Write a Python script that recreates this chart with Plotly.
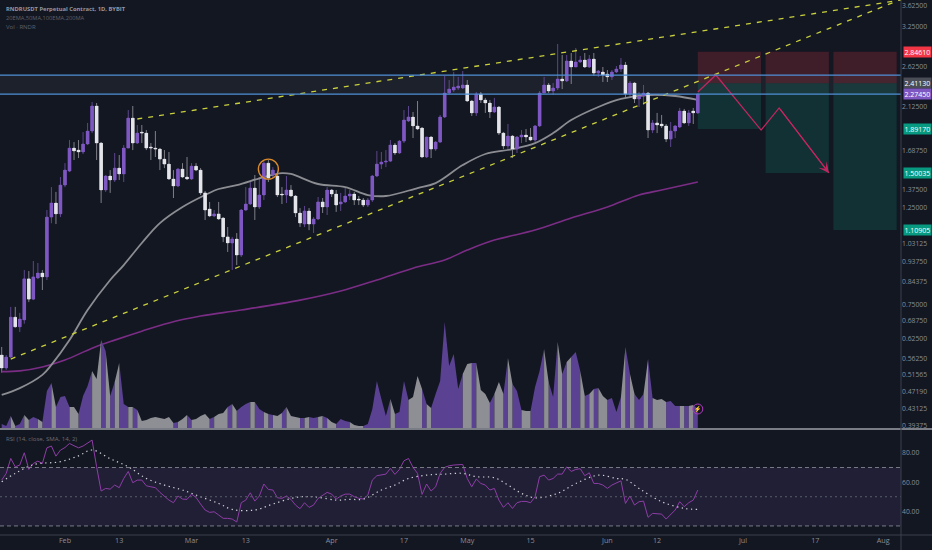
import math
import pandas as pd
import plotly.graph_objects as go

START = "2023-01-18"
opens = [.573,.535,.567,.700,.665,.690,.857,.770,.861,.884,
 .866,1.188,1.280,1.208,1.407,1.515,1.711,1.693,1.676,1.748,
 1.872,2.137,1.757,1.371,1.476,1.445,1.539,1.492,1.711,2.005,
 1.757,1.862,1.852,1.721,1.711,1.702,1.614,1.572,1.453,1.400,
 1.531,1.468,1.453,1.555,1.523,1.350,1.240,1.195,1.208,1.182,
 1.070,1.036,1.058,.972,1.233,1.273,1.385,1.253,1.335,1.580,
 1.484,1.476,1.342,1.335,1.371,1.328,1.214,1.145,1.227,1.145,
 1.176,1.287,1.253,1.371,1.342,1.273,1.287,1.328,1.342,1.307,
 1.300,1.266,1.300,1.476,1.572,1.589,1.597,1.739,1.667,1.775,
 1.974,2.016,1.923,1.902,1.632,1.814,1.702,1.766,2.016,2.289,
 2.325,2.350,2.350,2.388,2.194,2.060,2.277,2.206,2.171,2.070,
 2.126,1.852,1.730,1.823,1.702,1.814,1.833,1.814,1.785,1.923,
 2.289,2.388,2.313,2.350,2.465,2.439,2.711,2.626,2.697,2.725,
 2.626,2.739,2.543,2.558,2.530,2.492,2.558,2.598,2.654,2.277,
 2.413,2.218,2.253,2.289,1.882,1.954,1.943,1.923,1.794,1.872,
 1.912,2.081,1.954,2.081,2.060]
highs = [.598,.573,.739,.739,.716,.898,.893,.942,.932,.898,
 1.233,1.392,1.357,1.468,1.580,1.785,1.766,1.785,1.862,1.954,
 2.183,2.171,1.766,1.484,1.523,1.667,1.649,1.739,2.092,2.137,
 1.933,1.933,1.882,1.757,1.872,1.711,1.693,1.676,1.523,1.539,
 1.580,1.632,1.580,1.580,1.539,1.364,1.287,1.233,1.287,1.188,
 1.127,1.070,1.092,1.240,1.392,1.445,1.484,1.468,1.597,1.606,
 1.547,1.507,1.392,1.476,1.407,1.335,1.246,1.260,1.246,1.188,
 1.321,1.314,1.392,1.378,1.371,1.350,1.385,1.371,1.357,1.328,
 1.314,1.314,1.484,1.685,1.676,1.693,1.785,1.757,1.785,2.092,
 2.137,2.070,2.194,1.912,1.814,1.823,1.775,2.038,2.505,2.452,
 2.558,2.492,2.571,2.452,2.206,2.301,2.301,2.230,2.206,2.230,
 2.137,1.862,1.943,1.833,1.823,1.882,1.892,1.902,1.933,2.313,
 2.492,2.413,2.413,2.966,2.798,2.798,2.828,2.904,2.783,2.828,
 2.798,2.828,2.585,2.626,2.585,2.585,2.640,2.753,2.697,2.439,
 2.426,2.301,2.388,2.301,1.984,2.060,2.038,1.943,1.964,1.933,
 2.115,2.104,2.092,2.115,2.277]
lows = [.522,.530,.564,.662,.647,.676,.758,.766,.856,.808,
 .852,1.150,1.145,1.188,1.392,1.507,1.606,1.623,1.658,1.739,
 1.852,1.606,1.280,1.357,1.350,1.430,1.445,1.430,1.711,1.693,
 1.748,1.757,1.693,1.606,1.632,1.523,1.539,1.445,1.314,1.392,
 1.460,1.445,1.445,1.515,1.335,1.170,1.188,1.188,1.170,1.041,
 .988,.898,.922,.962,1.227,1.266,1.170,1.240,1.300,1.430,
 1.460,1.321,1.273,1.280,1.321,1.188,1.127,1.127,1.109,1.092,
 1.170,1.214,1.201,1.321,1.221,1.227,1.280,1.300,1.266,1.266,
 1.253,1.253,1.287,1.468,1.531,1.547,1.589,1.649,1.658,1.757,
 1.964,1.804,1.882,1.623,1.623,1.623,1.685,1.757,2.005,2.277,
 2.301,2.325,2.337,2.183,2.027,2.027,2.171,2.060,2.005,2.060,
 1.833,1.702,1.693,1.623,1.667,1.757,1.766,1.775,1.766,1.912,
 2.289,2.289,2.265,2.325,2.337,2.426,2.401,2.626,2.683,2.612,
 2.612,2.505,2.492,2.426,2.426,2.452,2.543,2.558,2.230,2.242,
 2.171,2.126,2.148,1.804,1.852,1.852,1.902,1.766,1.721,1.804,
 1.902,1.943,1.923,1.943,2.049]
closes = [.535,.567,.700,.665,.693,.857,.770,.866,.884,.866,
 1.188,1.280,1.208,1.407,1.523,1.711,1.685,1.676,1.748,1.872,
 2.137,1.757,1.371,1.476,1.445,1.539,1.492,1.711,2.005,1.757,
 1.852,1.852,1.711,1.711,1.702,1.614,1.572,1.453,1.400,1.531,
 1.468,1.453,1.555,1.523,1.350,1.233,1.195,1.208,1.176,1.070,
 1.036,1.058,.972,1.233,1.273,1.385,1.253,1.335,1.580,1.460,
 1.523,1.335,1.335,1.371,1.328,1.214,1.151,1.227,1.145,1.176,
 1.287,1.253,1.371,1.342,1.266,1.287,1.328,1.342,1.300,1.300,
 1.266,1.300,1.476,1.572,1.589,1.597,1.739,1.667,1.775,1.984,
 2.016,1.923,1.892,1.632,1.814,1.702,1.766,2.016,2.289,2.337,
 2.362,2.375,2.388,2.194,2.060,2.277,2.206,2.171,2.070,2.126,
 1.852,1.730,1.823,1.702,1.814,1.833,1.814,1.785,1.923,2.289,
 2.388,2.313,2.350,2.465,2.439,2.711,2.626,2.697,2.725,2.626,
 2.739,2.543,2.571,2.517,2.492,2.558,2.598,2.654,2.277,2.413,
 2.218,2.253,2.289,1.882,1.954,1.933,1.923,1.794,1.872,1.923,
 2.081,1.954,2.060,2.060,2.277]
volume = [5,3,13,3,5,14,9,12,10,7,
 38,46,22,32,33,22,22,15,33,43,
 58,50,89,78,33,47,66,25,22,22,
 19,8,9,11,12,11,10,12,6,7,
 10,14,9,10,13,15,10,12,15,16,
 22,25,18,22,25,27,27,20,17,15,
 14,13,16,22,13,12,11,11,12,11,
 12,13,11,7,5,10,8,7,4,3,
 3,5,20,48,30,13,30,15,17,48,
 29,32,53,40,25,21,35,48,107,63,
 75,40,55,65,66,66,39,35,26,35,
 47,35,71,45,38,19,18,18,42,58,
 80,47,32,87,55,67,72,77,58,33,
 35,40,41,33,29,31,17,32,82,55,
 35,29,35,70,31,29,30,27,28,23,
 23,23,23,24,20]
rsi = [61.4,66.0,76.2,70.5,71.7,80.1,68.7,72.8,74.4,72.8,
 83.5,84.7,77.8,81.9,83.7,86.5,84.9,83.5,84.7,86.5,
 88.8,70.5,53.9,55.7,55.2,58.0,56.2,62.5,67.3,59.6,
 61.4,61.4,57.5,56.8,56.2,53.0,50.5,47.7,45.9,50.5,
 48.4,48.2,51.8,49.5,45.0,40.9,39.3,39.7,37.5,35.2,
 35.2,34.7,32.7,45.9,47.7,52.7,47.0,50.5,58.7,55.0,
 54.6,49.3,48.9,50.5,48.2,44.3,41.8,45.9,42.7,44.3,
 48.9,51.1,53.0,51.8,48.4,50.5,51.8,51.8,50.0,48.9,
 48.4,51.1,61.4,64.4,64.8,65.5,69.4,65.3,68.7,74.6,
 76.2,70.1,66.0,51.6,58.7,53.9,56.8,66.0,70.1,71.2,
 71.7,71.7,72.1,62.5,56.8,62.1,59.1,58.0,54.6,55.7,
 47.7,42.7,45.9,42.0,45.9,46.8,46.8,45.9,50.0,63.7,
 64.8,61.4,62.5,65.5,65.5,70.5,67.3,68.7,69.2,64.4,
 66.4,59.1,59.1,58.0,55.7,58.0,59.6,60.9,45.4,50.5,
 44.3,46.6,47.0,35.9,38.6,38.1,38.1,34.7,38.1,40.9,
 46.6,43.2,45.9,47.7,54.6]
rsi_ma_at = [0,3,7,13,17,20,24,28,32,36,40,44,48,51,56,60,65,69,74,77,80,84,87,90,94,98,102,105,109,112,115,118,123,127,132,136,138,141,146,151,154]
rsi_ma = [60.3,66,72,74,78,82,76,70.5,62.5,58,54.6,50,45.4,41.3,40.9,45,49.5,50,47.7,48.2,48.4,54.6,58,62.5,64.8,65.5,66,63.7,63,58,52.3,49.3,52.3,59,64.8,62.5,61.9,55.7,46.6,42,41.3]
ma50_at = [0,4,9,11,15,19,24,27,31,35,40,45,48,52,58,62,64,70,76,81,85,92,96,102,107,113,118,122,126,132,137,143,149,154]
ma50 = [.464,.481,.516,.544,.620,.727,.852,.922,1.036,1.151,1.253,1.335,1.378,1.407,1.468,1.499,1.492,1.415,1.392,1.335,1.328,1.385,1.422,1.564,1.658,1.702,1.757,1.852,1.984,2.126,2.218,2.265,2.253,2.206]
ma200_at = [0,4,9,14,20,25,31,37,44,53,66,75,83,91,98,103,109,118,126,134,141,146,154]
ma200 = [.525,.527,.538,.558,.594,.620,.650,.679,.704,.727,.766,.804,.852,.907,.947,.998,1.052,1.109,1.182,1.253,1.335,1.371,1.430]

upper_trend_dates = ["2023-02-17", "2023-08-05"]
upper_trend = [1.995, 3.742]
lower_trend_dates = ["2023-01-20", "2023-08-04"]
lower_trend = [.561, 3.72]
zone_levels = [2.2745, 2.517]
forecast_dates = ["2023-06-21", "2023-06-25", "2023-07-05", "2023-07-09", "2023-07-20"]
forecast = [2.30, 2.517, 1.882, 2.115, 1.50035]
entry, stop = 2.4113, 2.8461
boxes = [("2023-06-21", "2023-07-05", 1.8917), ("2023-07-06", "2023-07-20", 1.50035), ("2023-07-21", "2023-08-04", 1.10905)]
price_ticks = [3.625,3.25,2.625,2.125,1.6875,1.375,1.25,1.03125,.9375,.84375,.75,.6875,.625,.5625,.51565,.4719,.43125,.39375]
price_labels = ["3.62500","3.25000","2.62500","2.12500","1.68750","1.37500","1.25000","1.03125","0.93750","0.84375","0.75000","0.68750","0.62500","0.56250","0.51565","0.47190","0.43125","0.39375"]
time_ticks = ["2023-02-01","2023-02-13","2023-03-01","2023-03-13","2023-04-01","2023-04-17","2023-05-01","2023-05-15","2023-06-01","2023-06-12","2023-07-01","2023-07-17","2023-08-01"]
time_labels = ["Feb","13","Mar","13","Apr","17","May","15","Jun","12","Jul","17","Aug"]
tags = [("2.84610",2.8461,"#f23645"),("2.41130",2.4113,"#4a4d56"),("2.27450",2.2745,"#7e57c2"),("1.89170",1.8917,"#089981"),("1.50035",1.50035,"#089981"),("1.10905",1.10905,"#089981")]

FONT = "Open Sans"
BG = "#131722"
UP, DOWN = "#7e57c2", "#e4e5ea"
dates = pd.date_range(START, periods=len(closes), freq="D")
at = lambda idx: [dates[i] for i in idx]
W, H, PW, PH = 932, 550, 901, 535
px_y = lambda y: 1 - y / PH
px_x = lambda x: x / PW

fig = go.Figure()

# volume: one closed column per candle, coloured by that candle
vx = {True: [], False: []}
vy = {True: [], False: []}
for i in range(1, len(volume)):
    up = closes[i] >= opens[i]
    vx[up] += [dates[i - 1], dates[i], dates[i], dates[i - 1], None]
    vy[up] += [volume[i - 1], volume[i], 0, 0, None]
for up, col in ((True, "#5a4191"), (False, "#8e8f94")):
    fig.add_trace(go.Scatter(x=vx[up], y=vy[up], yaxis="y3", mode="none", fill="toself", fillcolor=col, hoverinfo="skip"))

fig.add_trace(go.Scatter(x=at(ma200_at), y=ma200, mode="lines", line=dict(color="#7b2d86", width=1.6, shape="spline"), hoverinfo="skip"))
fig.add_trace(go.Scatter(x=at(ma50_at), y=ma50, mode="lines", line=dict(color="#8c8d92", width=1.8, shape="spline"), hoverinfo="skip"))
fig.add_trace(go.Candlestick(x=dates, open=opens, high=highs, low=lows, close=closes,
    increasing=dict(line=dict(color="#6f52a8", width=0.8), fillcolor=UP),
    decreasing=dict(line=dict(color="#9a9ba1", width=0.8), fillcolor=DOWN), hoverinfo="skip"))
# fuller candle bodies on top of the candlestick trace
bx = {True: [], False: []}
by = {True: [], False: []}
for i, d in enumerate(dates):
    up = closes[i] >= opens[i]
    bx[up] += [d, d, None]
    by[up] += [opens[i], closes[i], None]
for up, col in ((True, UP), (False, DOWN)):
    fig.add_trace(go.Scatter(x=bx[up], y=by[up], mode="lines", line=dict(color=col, width=3.5), hoverinfo="skip"))
for xs, ys in ((upper_trend_dates, upper_trend), (lower_trend_dates, lower_trend)):
    fig.add_trace(go.Scatter(x=xs, y=ys, mode="lines", line=dict(color="#c9d03c", width=1.3, dash="5px,6px"), hoverinfo="skip"))
fig.add_trace(go.Scatter(x=forecast_dates, y=forecast, mode="lines", line=dict(color="#c2265f", width=1.3), hoverinfo="skip"))
fig.add_trace(go.Scatter(x=[dates[59]], y=[1.531], mode="markers", marker=dict(symbol="circle-open", size=20, color="#d98a2b", line=dict(width=1.4)), hoverinfo="skip"))
fig.add_trace(go.Scatter(x=dates, y=rsi, yaxis="y2", mode="lines", line=dict(color="#8e3da6", width=1), hoverinfo="skip"))
fig.add_trace(go.Scatter(x=at(rsi_ma_at), y=rsi_ma, yaxis="y2", mode="lines", line=dict(color="#d4d6dc", width=1.2, dash="1.3px,3.5px", shape="spline"), hoverinfo="skip"))
fig.add_trace(go.Scatter(x=[dates[-1]], y=[20], yaxis="y3", mode="markers", marker=dict(symbol="circle-open", size=10, color="#b03cc0", line=dict(width=1)), hoverinfo="skip"))

shapes = []
def rect(x0, x1, y0, y1, fill, xref="x", yref="y"):
    shapes.append(dict(type="rect", xref=xref, yref=yref, x0=x0, x1=x1, y0=y0, y1=y1, fillcolor=fill, line_width=0, layer="below"))
def hline(y, color, width=1, dash="solid", yref="y"):
    shapes.append(dict(type="line", xref="paper", yref=yref, x0=0, x1=1, y0=y, y1=y, line=dict(color=color, width=width, dash=dash)))

rect(0, 1, zone_levels[0], zone_levels[1], "rgba(255,255,255,0.045)", xref="paper")
for x0, x1, target in boxes:
    rect(x0, x1, entry, stop, "rgba(242,54,69,0.2)")
    rect(x0, x1, target, entry, "rgba(8,153,129,0.2)")
hline(zone_levels[0], "#4f8fd6", 1.2)
hline(zone_levels[1], "#4f8fd6", 1.2)
rect(0, 1, 30, 70, "rgba(126,87,194,0.13)", xref="paper", yref="y2")
hline(70, "#787b86", 1, "4px,3px", "y2")
hline(50, "#5a5d68", 1, "2px,3px", "y2")
hline(30, "#787b86", 1, "4px,3px", "y2")
for y, col, wd in ((429, "#7a7d85", 2), (535, "#3d414c", 1)):
    shapes.append(dict(type="line", xref="paper", yref="paper", x0=0, x1=W / PW, y0=px_y(y), y1=px_y(y), line=dict(color=col, width=wd)))
shapes.append(dict(type="line", xref="paper", yref="paper", x0=1, x1=1, y0=px_y(H), y1=1, line=dict(color="#3d414c", width=1)))

anns = []
def label(x, y, text, color, size=7.5, bold=False):
    anns.append(dict(xref="paper", yref="paper", x=px_x(x), y=px_y(y), text=f"<b>{text}</b>" if bold else text, showarrow=False,
                     xanchor="left", yanchor="middle", font=dict(family=FONT, size=size, color=color)))
label(4, 9, "RNDRUSDT Perpetual Contract, 1D, BYBIT", "#9598a1", 5.8, True)
label(4, 18, "20EMA,50MA,100EMA,200MA", "#5d606b", 5.7)
label(4, 27, "Vol · RNDR", "#5d606b", 6)
label(4, 438, "RSI (14, close, SMA, 14, 2)", "#6a6d78", 6.1)
for text, value, col in tags:
    anns.append(dict(xref="paper", yref="y", x=px_x(903), y=math.log10(value), text=text, showarrow=False, xanchor="left", yanchor="middle",
                     bgcolor=col, borderpad=0.5, font=dict(family=FONT, size=7, color="#ffffff")))
anns.append(dict(x=forecast_dates[-1], y=math.log10(forecast[-1]), ax=forecast_dates[-2], ay=math.log10(forecast[-2]), xref="x", yref="y", axref="x", ayref="y",
                 text="", showarrow=True, arrowhead=3, arrowsize=1.6, arrowwidth=1.1, arrowcolor="#c2265f"))
anns.append(dict(x=dates[-1], y=20, xref="x", yref="y3", text="⚡", showarrow=False, font=dict(size=6, color="#c050d0")))

fig.update_layout(
    width=W, height=H, showlegend=False, paper_bgcolor=BG, plot_bgcolor=BG,
    margin=dict(l=0, r=W - PW, t=0, b=H - PH), autosize=False, shapes=shapes, annotations=anns,
    xaxis=dict(type="date", range=["2023-01-17 15:00", "2023-08-04 23:00"], anchor="y2", tickvals=time_ticks, ticktext=time_labels,
               showgrid=False, zeroline=False, ticks="", rangeslider=dict(visible=False), tickfont=dict(family=FONT, size=7.2, color="#8a8d96")),
    yaxis=dict(type="log", domain=[(PH - 429) / PH, 1], range=[math.log10(.3876), math.log10(3.742)], side="right", tickvals=price_ticks, ticktext=price_labels,
               showgrid=False, zeroline=False, ticks="", tickfont=dict(family=FONT, size=6.8, color="#8a8d96")),
    yaxis2=dict(domain=[0, (PH - 430) / PH], range=[23.8, 95.7], side="right", anchor="x", tickvals=[40, 60, 80], ticktext=["40.00", "60.00", "80.00"],
                showgrid=False, zeroline=False, ticks="", tickfont=dict(family=FONT, size=6.8, color="#8a8d96")),
    yaxis3=dict(domain=[(PH - 429) / PH, 1], range=[0, 429], overlaying="y", side="left", visible=False, fixedrange=True),
)
fig.write_html("out.html", config=dict(displayModeBar=False),
               post_script="document.body.style.margin='0';document.documentElement.style.background='#131722';document.documentElement.style.overflow='hidden';")
